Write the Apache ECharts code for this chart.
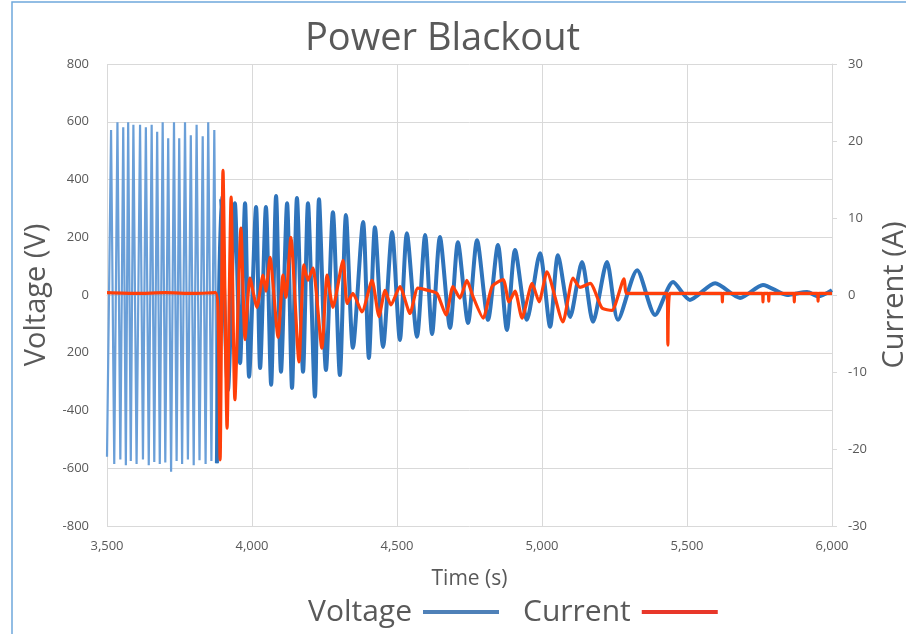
<!DOCTYPE html>
<html>
<head>
<meta charset="utf-8">
<script src="https://cdn.jsdelivr.net/npm/echarts@6/dist/echarts.min.js"></script>
<style>
  html, body { margin: 0; padding: 0; background: #ffffff; overflow: hidden; }
  #chart { width: 906px; height: 634px; }
</style>
</head>
<body>
<div id="chart"></div>
<script>
// Voltage before the blackout: alternating troughs and peaks (time in s, volts)
const preTime = [3500, 3514, 3525, 3536, 3546, 3556, 3565, 3573, 3582, 3591, 3602, 3614, 3624, 3634, 3644, 3654,
  3663, 3673, 3682, 3692, 3701, 3711, 3721, 3731, 3740, 3749, 3759, 3769, 3779, 3789, 3799, 3809, 3819, 3830,
  3840, 3849, 3860, 3870, 3879];
const preVolt = [-560, 571, -585, 598, -570, 581, -590, 598, -575, 590, -585, 590, -570, 581, -590, 590,
  -578, 565, -585, 598, -580, 543, -612, 598, -575, 543, -585, 598, -570, 553, -590, 590, -572, 550,
  -585, 598, -575, 571, -583];

// Voltage after the blackout: decaying, slowing oscillation
const postTime = [3879, 3893, 3917, 3941, 3959, 3976, 3990, 4014, 4028, 4048, 4066, 4083, 4100, 4121, 4138,
  4155, 4176, 4193, 4217, 4231, 4255, 4279, 4303, 4324, 4348, 4383, 4403, 4424, 4452, 4483, 4510, 4534,
  4569, 4597, 4621, 4648, 4683, 4710, 4745, 4776, 4814, 4848, 4879, 4907, 4948, 4993, 5028, 5055, 5097,
  5138, 5176, 5224, 5262, 5328, 5390, 5452, 5510, 5597, 5683, 5762, 5845, 5914, 5952, 6000];
const postVolt = [-583, 336, -330, 318, -236, 318, -283, 305, -253, 305, -311, 343, -266, 318, -322,
  336, -266, 318, -352, 332, -260, 287, -277, 277, -183, 253, -218, 235, -180, 218, -156, 214,
  -145, 208, -135, 201, -114, 183, -97, 190, -86, 173, -121, 156, -86, 145, -110, 138, -76,
  114, -93, 114, -86, 86, -69, 45, -17, 41, -10, 35, 0, 10, -5, 17];

// Current (time in s, amperes)
const currTime = [3500, 3600, 3700, 3800, 3874, 3883, 3890, 3900, 3914, 3928, 3941, 3962, 3976, 3993, 4017,
  4038, 4048, 4062, 4090, 4107, 4117, 4134, 4162, 4179, 4193, 4210, 4241, 4259, 4279, 4314, 4328, 4348,
  4379, 4414, 4438, 4459, 4479, 4510, 4545, 4572, 4607, 4638, 4669, 4693, 4717, 4741, 4762, 4797, 4828,
  4866, 4886, 4907, 4931, 4966, 4990, 5017, 5072, 5107, 5131, 5166, 5207, 5241, 5283, 5293, 5431, 5434,
  5441, 5620, 5622, 5624, 5760, 5762, 5764, 5780, 5782, 5784, 5868, 5870, 5872, 5950, 5952, 5954, 6000];
const currAmp = [0.3, 0.2, 0.3, 0.2, 0.3, -2.3, -21.4, 16.2, -17.3, 12.7, -13.6, 8.7, -5.8, 2.2, -1.6,
  2.6, 0.5, 4.9, -5.5, 2.6, -0.3, 7.5, -8.7, 3.9, 1.9, 3.5, -6.9, 2.6, -1.6, 4.5, -1.1, 0.2,
  -2.2, 1.9, -2.8, 0.6, -1.3, 1.1, -2.4, 0.9, 0.6, 0.2, -2.6, 1.1, -0.4, 1.9, -0.2, -3.0, 1.1,
  2.0, -0.9, 0.5, -3.0, 1.5, -0.9, 3.0, -3.5, 2.2, 1.0, 1.5, -1.7, -2.0, 2.1, 0.2, 0.2, -6.5,
  0.2, 0.2, -0.9, 0.2, 0.2, -0.9, 0.2, 0.2, -0.8, 0.2, 0.2, -0.9, 0.2, 0.2, -0.8, 0.2, 0.2];

// Left axis tick labels as printed on the chart
const voltTickValues = [-800, -600, -400, -200, 0, 200, 400, 600, 800];
const voltTickLabels = ['-800', '-600', '-400', '200', '0', '200', '400', '600', '800'];

const pairs = (xs, ys) => xs.map((x, i) => [x, ys[i]]);

const FONT = 'Open Sans';
const GREY = '#595959';
const GRID = '#d9d9d9';

const chart = echarts.init(document.getElementById('chart'), null, { renderer: 'canvas' });
chart.setOption({
  animation: false,
  backgroundColor: '#ffffff',
  title: {
    text: 'Power Blackout',
    left: 300,
    top: 15,
    textStyle: { fontFamily: FONT, fontSize: 38, fontWeight: 'normal', color: GREY }
  },
  legend: {
    top: 592,
    left: 303,
    align: 'right',
    icon: 'rect',
    itemWidth: 76,
    itemHeight: 4,
    itemGap: 24,
    textStyle: { fontFamily: FONT, fontSize: 30, color: GREY, padding: [0, 6, 0, 0] },
    data: [
      { name: 'Voltage', itemStyle: { color: '#4f81b8' } },
      { name: 'Current', itemStyle: { color: '#e8372a' } }
    ]
  },
  grid: { left: 107, right: 74, top: 64, bottom: 108, containLabel: false, outerBoundsMode: 'none' },
  xAxis: {
    type: 'value',
    min: 3500, max: 6000, interval: 500,
    name: 'Time (s)',
    nameLocation: 'middle',
    nameGap: 43,
    nameTextStyle: { fontFamily: FONT, fontSize: 21, color: GREY },
    axisLine: { show: true, lineStyle: { color: GRID } },
    axisTick: { show: false },
    axisLabel: {
      fontFamily: FONT, fontSize: 13, color: GREY, margin: 14,
      formatter: v => v.toLocaleString('en-US')
    },
    splitLine: { show: true, lineStyle: { color: GRID, width: 1 } }
  },
  yAxis: [
    {
      type: 'value',
      min: -800, max: 800, interval: 200,
      name: 'Voltage (V)',
      nameLocation: 'middle',
      nameGap: 54,
      nameTextStyle: { fontFamily: FONT, fontSize: 29, color: GREY },
      axisLine: { show: false },
      axisTick: { show: false },
      axisLabel: {
        fontFamily: FONT, fontSize: 13, color: GREY, margin: 18,
        formatter: v => voltTickLabels[voltTickValues.indexOf(v)]
      },
      splitLine: { show: true, lineStyle: { color: GRID, width: 1 } }
    },
    {
      type: 'value',
      min: -30, max: 30, interval: 10,
      name: 'Current (A)',
      nameLocation: 'middle',
      nameGap: 48,
      nameRotate: 90,
      nameTextStyle: { fontFamily: FONT, fontSize: 29, color: GREY },
      axisLine: { show: true, lineStyle: { color: GRID } },
      axisTick: { show: true, inside: false, length: 5, lineStyle: { color: GRID } },
      axisLabel: { fontFamily: FONT, fontSize: 13, color: GREY, margin: 16 },
      splitLine: { show: false }
    }
  ],
  series: [
    {
      name: 'Voltage',
      type: 'line',
      yAxisIndex: 0,
      data: pairs(preTime, preVolt),
      showSymbol: false,
      lineStyle: { color: '#6a9fd8', width: 2.2 },
      itemStyle: { color: '#6a9fd8' },
      z: 2
    },
    {
      name: 'Voltage',
      type: 'line',
      yAxisIndex: 0,
      data: pairs(postTime, postVolt),
      showSymbol: false,
      smooth: 0.25,
      lineStyle: { color: '#2f74bb', width: 4 },
      itemStyle: { color: '#2f74bb' },
      z: 3
    },
    {
      name: 'Current',
      type: 'line',
      yAxisIndex: 1,
      data: pairs(currTime, currAmp),
      showSymbol: false,
      smooth: 0.2,
      lineStyle: { color: '#ff3f0a', width: 3.2 },
      itemStyle: { color: '#ff3f0a' },
      z: 4
    }
  ],
  graphic: [
    {
      type: 'rect',
      silent: true,
      shape: { x: 12, y: 2, width: 1000, height: 1000 },
      style: { fill: 'none', stroke: '#6fa8dc', lineWidth: 1.5 }
    }
  ]
});
</script>
</body>
</html>
